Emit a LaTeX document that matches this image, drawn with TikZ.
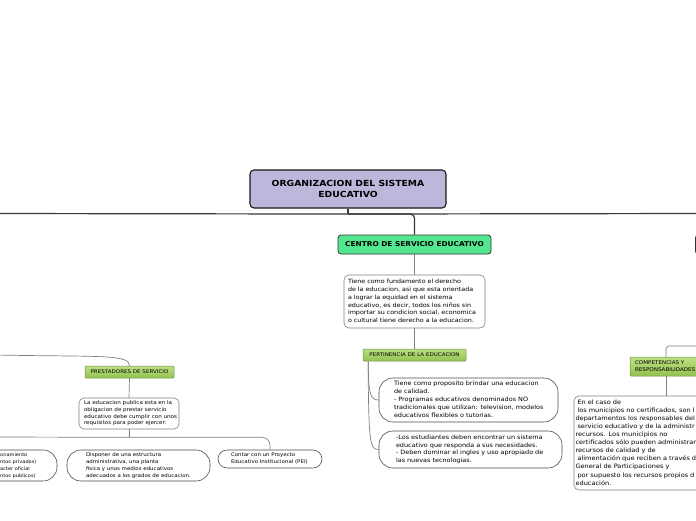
\documentclass[tikz,border=0pt]{standalone}
\usepackage{fontspec}
\setmainfont{DejaVu Sans}[FakeStretch=1.1]
\usetikzlibrary{calc}
\definecolor{lav}{HTML}{BDB7DB}
\definecolor{cgreen}{HTML}{52E690}
\definecolor{lgtop}{HTML}{BCDF84}
\definecolor{lgbot}{HTML}{93C24F}
\definecolor{lgborder}{HTML}{6E8F4A}
\newcommand{\tlines}[1]{\begin{tabular}{@{}l@{}}#1\end{tabular}}
\begin{document}
\begin{tikzpicture}[x=1pt,y=-1pt,
  conn/.style={draw=black!50, line width=0.7pt},
  mainconn/.style={draw=black!78, line width=1.2pt},
  rootbox/.style={draw=black!90, fill=lav, rounded corners=4pt, line width=1.1pt, align=center, inner sep=0pt,
    font=\bfseries\fontsize{8.4}{10.5}\selectfont},
  centrobox/.style={draw=black!80, fill=cgreen, rounded corners=3pt, line width=0.8pt, inner sep=0pt,
    font=\bfseries\fontsize{6.7}{7}\selectfont},
  labelbox/.style={draw=lgborder, top color=lgtop, bottom color=lgbot, rounded corners=1pt, inner sep=0pt, line width=0.5pt},
  textbox/.style={draw=black!50, fill=white, rounded corners=5pt, line width=0.6pt, align=left, inner sep=0pt},
  bubble/.style={draw=black!70, fill=white, rounded corners=14pt, line width=0.6pt, align=left, inner sep=0pt},
]
\useasboundingbox (0,0) rectangle (696,520);
\clip (0,0) rectangle (696,520);

% nodes
\node[rootbox, minimum width=196pt, minimum height=38pt] (root) at (348,189) {ORGANIZACION DEL SISTEMA\\EDUCATIVO};
\node[centrobox, minimum width=153pt, minimum height=19pt] (centro) at (414.5,244.5) {CENTRO DE SERVICIO EDUCATIVO};
\node[centrobox, minimum width=100pt, minimum height=19pt, anchor=west] (rtop) at (695,244.5) {};

\node[textbox, minimum width=141pt, minimum height=53pt, text width=133pt, font=\fontsize{5.8}{7.9}\selectfont] (t1) at (414.5,301.5)
 {\tlines{Tiene como fundamento el derecho\\de la educacion, asi que esta orientada\\a lograr la equidad en el sistema\\educativo, es decir, todos los niños sin\\importar su condicion social, economica\\o cultural tiene derecho a la educacion.}};

\node[labelbox, minimum width=103pt, minimum height=12pt, font=\fontsize{5.05}{6}\selectfont] (pert) at (414.5,355) {PERTINENCIA DE LA EDUCACION};

\node[bubble, minimum width=179pt, minimum height=44pt, text width=149pt, font=\fontsize{5.9}{8.1}\selectfont] (b1) at (468.5,400)
 {\tlines{Tiene como proposito brindar una educacion\\de calidad.\\- Programas educativos denominados NO\\tradicionales que utilizan: television, modelos\\educativos flexibles o tutorias.}};

\node[bubble, minimum width=183pt, minimum height=37pt, text width=149pt, font=\fontsize{5.9}{7.7}\selectfont] (b2) at (470.5,449.5)
 {\tlines{-Los estudiantes deben encontrar un sistema\\educativo que responda a sus necesidades.\\- Deben dominar el ingles y uso apropiado de\\las nuevas tecnologias.}};

\node[labelbox, minimum width=72pt, minimum height=19pt, text width=62pt, align=left, font=\fontsize{5.1}{6.5}\selectfont] (comp) at (666,366.5) {\tlines{COMPETENCIAS Y\\RESPONSABILIDADES}};

\node[textbox, minimum width=184pt, minimum height=94pt, text width=181pt, font=\fontsize{6.0}{8.1}\selectfont] (big) at (666,443)
 {\tlines{\ En el caso de\\\ los municipios no certificados, son l\\departamentos los responsables del\\\ servicio educativo y de la administr\\recursos. Los municipios no\\certificados sólo pueden administrar\\recursos de calidad y de\\\ alimentación que reciben a través d\\General de Participaciones y\\\ por supuesto los recursos propios d\\educación.}};

\node[labelbox, minimum width=89pt, minimum height=12pt, font=\fontsize{5.05}{6}\selectfont] (prest) at (129.5,372) {PRESTADORES DE SERVICIO};

\node[textbox, minimum width=100pt, minimum height=31pt, text width=90pt, font=\fontsize{5.1}{6.6}\selectfont] (t2) at (129,413.5)
 {\tlines{La educacion publica esta en la\\obligacion de prestar servicio\\educativo debe cumplir con unos\\requisitos para poder ejercer:}};

\draw[draw=black!70, fill=white, rounded corners=14pt, line width=0.6pt] (-90,450) rectangle (57,481);
\node[align=left, inner sep=0pt, anchor=west, font=\fontsize{4.6}{6.8}\selectfont] (bA) at (0,465.5)
 {\tlines{onamiento\\ntos privados)\\acter oficial\\ntos publicos)}};

\node[bubble, minimum width=143pt, minimum height=31pt, text width=105pt, font=\fontsize{5}{6.8}\selectfont] (bB) at (138.5,465.5)
 {\tlines{Disponer de una estructura\\administrativa, una planta\\fisica y unos medios educativos\\adecuados a los grados de educacion.}};

\node[bubble, minimum width=104pt, minimum height=18pt, text width=78pt, rounded corners=9pt, font=\fontsize{5}{6.8}\selectfont] (bC) at (270,459)
 {\tlines{Contar con un Proyecto\\Educativo Institucional (PEI)}};

% free ends
\coordinate (lend) at (-5,213.5);
\coordinate (rend) at (701,213.5);
\coordinate (cend) at (701,346);
\coordinate (pend) at (-5,355);
\coordinate (aend) at (-5,437);

% connectors
\draw[mainconn] (root.south) -- ++(0,5.5) coordinate (j);
\draw[mainconn] (j) -- (lend);
\draw[mainconn] (j) -- (rend);
\draw[mainconn, rounded corners=4pt] (j) -| (centro.north);
\draw[conn] (centro.south) -- (t1.north);
\draw[conn] (t1.south) -- (pert.north);
\draw[conn] ($(pert.south west)+(5.5,0)$) .. controls +(0,34) and +(-8,0) .. (b1.west);
\draw[conn] ($(pert.south west)+(5.5,0)$) .. controls +(0,86) and +(-8,0) .. (b2.west);
\draw[conn, rounded corners=3pt] (cend) -| (comp.north);
\draw[conn] (comp.south) -- (big.north);
\draw[conn] (pend) .. controls (100,357) and (129.5,354) .. (prest.north);
\draw[conn] (prest.south) -- (t2.north);
\draw[conn] (t2.south) -- ++(0,8) coordinate (k);
\draw[conn] (k) -- (aend);
\draw[conn, rounded corners=8pt] (k) -| (bC.north);
\end{tikzpicture}
\end{document}
